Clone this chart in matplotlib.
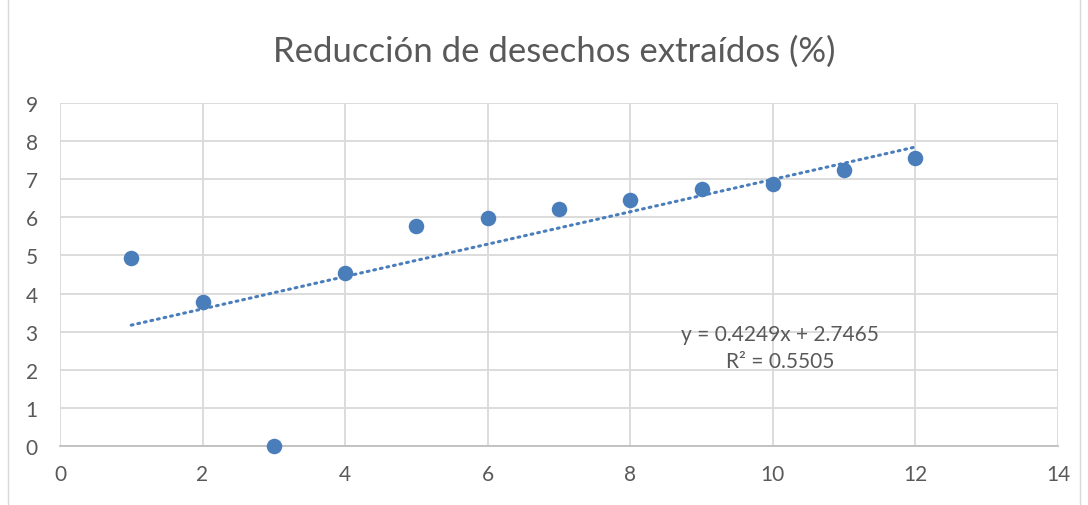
import numpy as np
import matplotlib.pyplot as plt
from matplotlib.patches import Rectangle

# data
x_vals = [1, 2, 3, 4, 5, 6, 7, 8, 9, 10, 11, 12]
y_vals = [4.92, 3.77, 0.0, 4.55, 5.77, 5.97, 6.23, 6.45, 6.75, 6.87, 7.25, 7.55]
x_ticks = [0, 2, 4, 6, 8, 10, 12, 14]
y_ticks = [0, 1, 2, 3, 4, 5, 6, 7, 8, 9]

# Excel trendline as shown on the chart
trend_slope = 0.4249
trend_intercept = 2.7465
trend_r2 = 0.5505

title = 'Reducción de desechos extraídos (%)'
blue = '#4a7ebb'
grey_txt = '#595959'
grid_col = '#d9d9d9'

plt.rcParams['font.family'] = ['Lato', 'DejaVu Sans']

fig = plt.figure(figsize=(10.88, 5.06), dpi=100)
ax = fig.add_axes([0.0551, 0.1166, 0.9173, 0.6779])

tx = np.array([min(x_vals), max(x_vals)])
ax.plot(tx, trend_slope * tx + trend_intercept, color=blue, linewidth=2.2,
        linestyle=(0, (0.6, 1.6)), dash_capstyle='round', zorder=2)

ax.scatter(x_vals, y_vals, s=125, color=blue, zorder=3, linewidths=0, clip_on=False)

ax.text(10.1, 2.94, f'y = {trend_slope:.4f}x + {trend_intercept:.4f}', ha='center', va='center',
        fontsize=15, color=grey_txt)
ax.text(10.1, 2.23, f'R² = {trend_r2:.4f}', ha='center', va='center',
        fontsize=15, color=grey_txt)

ax.set_xlim(0, 14)
ax.set_ylim(0, 9)
ax.set_xticks(x_ticks)
ax.set_yticks(y_ticks)
ax.grid(True, color=grid_col, linewidth=1.3)
ax.set_axisbelow(True)
for side in ['top', 'right', 'left']:
    ax.spines[side].set_visible(False)
ax.spines['bottom'].set_color('#bfbfbf')
ax.spines['bottom'].set_linewidth(1.3)
ax.tick_params(length=0, labelsize=15, labelcolor=grey_txt)
ax.tick_params(axis='x', pad=13)
ax.tick_params(axis='y', pad=16)

fig.text(0.509, 0.898, title, ha='center', va='center', fontsize=25, color=grey_txt)

# chart area border
fig.patches.append(Rectangle((0.0074, -0.1), 0.985, 1.2, transform=fig.transFigure,
                             fill=False, edgecolor='#d9d9d9', linewidth=1.0))

fig.savefig('out.png', dpi=100)
